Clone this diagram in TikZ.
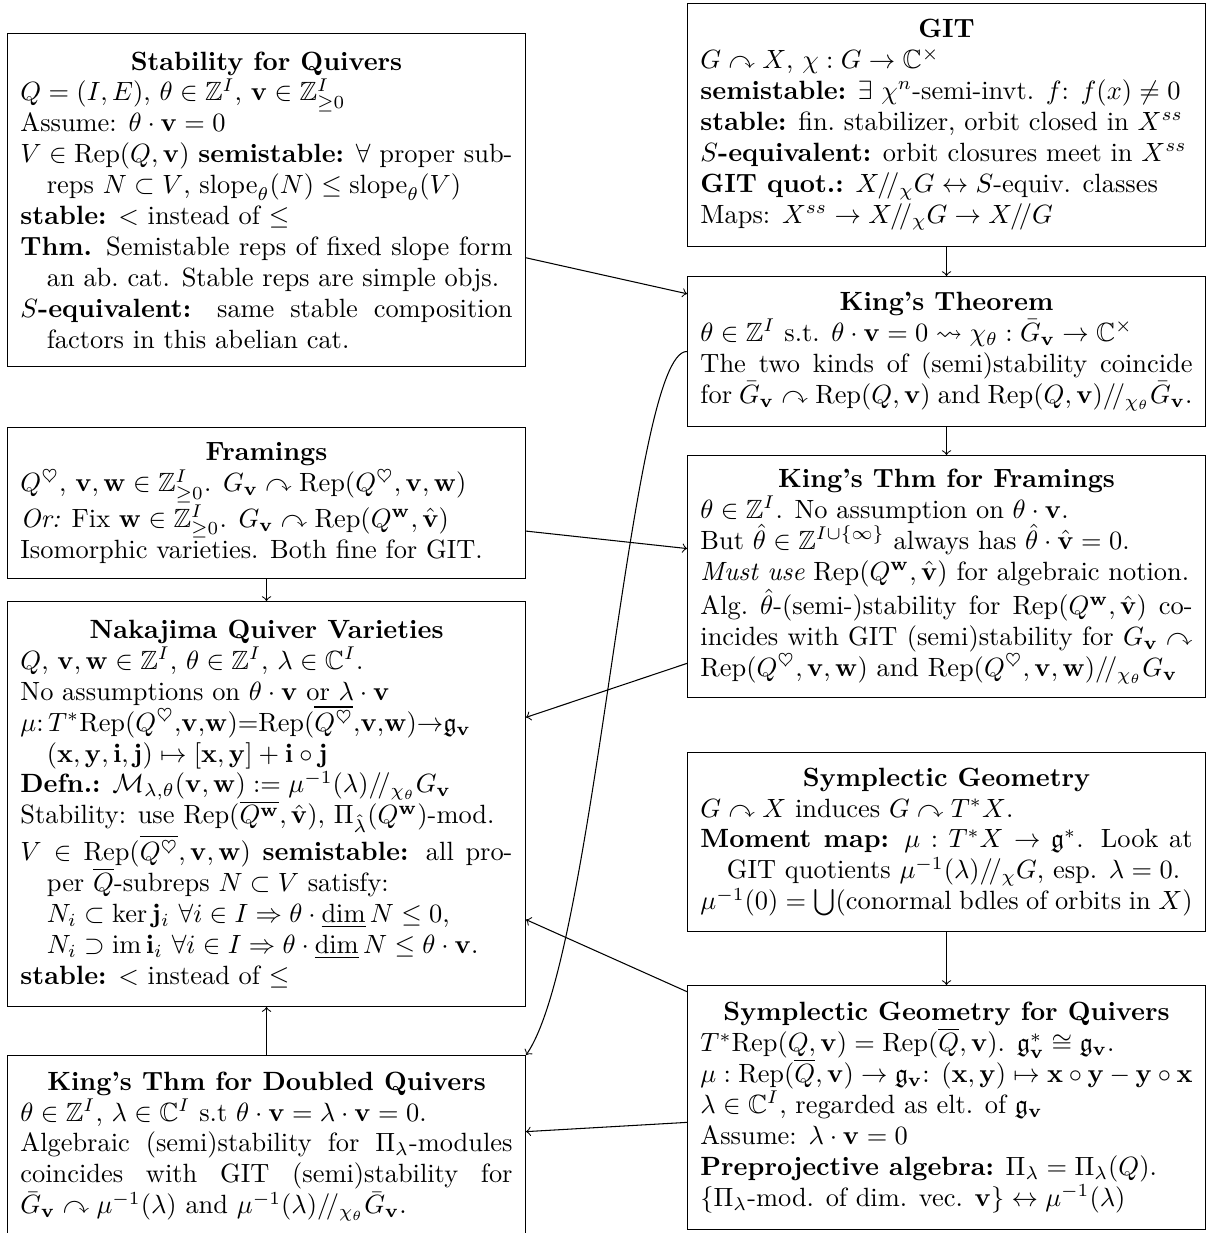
\documentclass[tikz,border=0pt]{standalone}
\usepackage{amsmath,amssymb}
\setlength{\parindent}{0pt}
\newcommand{\Rep}{\mathrm{Rep}}
\newcommand{\mv}{\mathbf{v}}
\newcommand{\mw}{\mathbf{w}}
\newcommand{\mx}{\mathbf{x}}
\newcommand{\my}{\mathbf{y}}
\newcommand{\mi}{\mathbf{i}}
\newcommand{\mj}{\mathbf{j}}
\newcommand{\gq}{/\!/}
\newcommand{\hg}{\hangindent=1em\hangafter=1\relax}
\newcommand{\ttl}[1]{{\centering\bfseries #1\par}}
\tikzset{
  box/.style={draw, anchor=north west, text width=186.4pt, inner xsep=4.9pt,
    inner ysep=4pt, align=justify, font=\fontsize{10}{11.7}\selectfont},
  conn/.style={->}
}
\begin{document}
\begin{tikzpicture}[x=0.3788pt, y=-0.3788pt]
\useasboundingbox (0,0) rectangle (1208,1233);

\node[box, minimum height=126.1pt] (stab) at (7,33) {%
\ttl{Stability for Quivers}
$Q=(I,E)$, $\theta\in\mathbb{Z}^I$, $\mv\in\mathbb{Z}^I_{\geq0}$\par
Assume: $\theta\cdot\mv=0$\par
\hg $V\in\Rep(Q,\mv)$ \textbf{semistable:} $\forall$ proper sub-\linebreak reps $N\subset V$, $\mathrm{slope}_\theta(N)\leq\mathrm{slope}_\theta(V)$\par
\textbf{stable:} $<$ instead of $\leq$\par
\hg \textbf{Thm.} Semistable reps of fixed slope form\linebreak an ab.\ cat. Stable reps are simple objs.\par
\hg $S$\textbf{-equivalent:} same stable composition\linebreak factors in this abelian cat.\par};

\node[box, minimum height=92pt] (git) at (687,3) {%
\ttl{GIT}
$G\curvearrowright X$, $\chi:G\to\mathbb{C}^\times$\par
\textbf{semistable:} $\exists$ $\chi^n$-semi-invt. $f$: $f(x)\neq0$\par
\textbf{stable:} fin.\ stabilizer, orbit closed in $X^{ss}$\par
$S$\textbf{-equivalent:} orbit closures meet in $X^{ss}$\par
\textbf{GIT quot.:} $X\gq_\chi G\leftrightarrow S$-equiv. classes\par
Maps: $X^{ss}\to X\gq_\chi G\to X\gq G$\par};

\node[box, minimum height=56.8pt] (king) at (687,276) {%
\ttl{King's Theorem}
$\theta\in\mathbb{Z}^I$ s.t. $\theta\cdot\mv=0\rightsquigarrow\chi_\theta:\bar G_\mv\to\mathbb{C}^\times$\par
The two kinds of (semi)stability coincide\linebreak for $\bar G_\mv\curvearrowright\Rep(Q,\mv)$ and $\Rep(Q,\mv)\gq_{\chi_\theta}\bar G_\mv$.\par};

\node[box, minimum height=91.7pt] (kingfr) at (687,455) {%
\ttl{King's Thm for Framings}
$\theta\in\mathbb{Z}^I$. No assumption on $\theta\cdot\mv$.\par
But $\hat\theta\in\mathbb{Z}^{I\cup\{\infty\}}$ always has $\hat\theta\cdot\hat\mv=0$.\par
\emph{Must use} $\Rep(Q^\mw,\hat\mv)$ for algebraic notion.\par
Alg.\ $\hat\theta$-(semi-)stability for $\Rep(Q^\mw,\hat\mv)$ co-\linebreak incides with GIT (semi)stability for $G_\mv\curvearrowright$\linebreak $\Rep(Q^\heartsuit,\mv,\mw)$ and $\Rep(Q^\heartsuit,\mv,\mw)\gq_{\chi_\theta}G_\mv$\par};

\node[box, minimum height=57.2pt] (fram) at (7,427) {%
\ttl{Framings}
$Q^\heartsuit$, $\mv,\mw\in\mathbb{Z}^I_{\geq0}$. $G_\mv\curvearrowright\Rep(Q^\heartsuit,\mv,\mw)$\par
\emph{Or:} Fix $\mw\in\mathbb{Z}^I_{\geq0}$. $G_\mv\curvearrowright\Rep(Q^\mw,\hat\mv)$\par
Isomorphic varieties. Both fine for GIT.\par};

\node[box, minimum height=153.4pt] (naka) at (7,601) {%
\ttl{Nakajima Quiver Varieties}
$Q$, $\mv,\mw\in\mathbb{Z}^I$, $\theta\in\mathbb{Z}^I$, $\lambda\in\mathbb{C}^I$.\par
No assumptions on $\theta\cdot\mv$ or $\lambda\cdot\mv$\par
\hg $\mu$:\,$T^*\Rep(Q^\heartsuit{,}\mv{,}\mw){=}\Rep(\overline{Q^\heartsuit}{,}\mv{,}\mw){\to}\mathfrak{g}_\mv$\\
$(\mx,\my,\mi,\mj)\mapsto[\mx,\my]+\mi\circ\mj$\par
\textbf{Defn.:} $\mathcal{M}_{\lambda,\theta}(\mv,\mw):=\mu^{-1}(\lambda)\gq_{\chi_\theta}G_\mv$\par
Stability: use $\Rep(\overline{Q^\mw},\hat\mv)$, $\Pi_{\hat\lambda}(Q^\mw)$-mod.\par
\hg $V\in\Rep(\overline{Q^\heartsuit},\mv,\mw)$ \textbf{semistable:} all pro-\linebreak per $\overline{Q}$-subreps $N\subset V$ satisfy:\\
$N_i\subset\ker\mj_i\ \forall i\in I\Rightarrow\theta\cdot\underline{\dim}\,N\leq0$,\\
$N_i\supset\mathrm{im}\,\mi_i\ \forall i\in I\Rightarrow\theta\cdot\underline{\dim}\,N\leq\theta\cdot\mv$.\par
\textbf{stable:} $<$ instead of $\leq$\par};

\node[box, minimum height=67.8pt] (symp) at (687,752) {%
\ttl{Symplectic Geometry}
$G\curvearrowright X$ induces $G\curvearrowright T^*X$.\par
\hg \textbf{Moment map:} $\mu:T^*X\to\mathfrak{g}^*$. Look at\linebreak GIT quotients $\mu^{-1}(\lambda)\gq_\chi G$, esp. $\lambda=0$.\par
$\mu^{-1}(0)=\bigcup$(conormal bdles of orbits in $X$)\par};

\node[box, minimum height=92.4pt] (sympq) at (687,985) {%
\ttl{Symplectic Geometry for Quivers}
$T^*\Rep(Q,\mv)=\Rep(\overline{Q},\mv)$. $\mathfrak{g}_\mv^*\cong\mathfrak{g}_\mv$.\par
$\mu:\Rep(\overline{Q},\mv)\to\mathfrak{g}_\mv$: $(\mx,\my)\mapsto\mx\circ\my-\my\circ\mx$\par
$\lambda\in\mathbb{C}^I$, regarded as elt. of $\mathfrak{g}_\mv$\par
Assume: $\lambda\cdot\mv=0$\par
\textbf{Preprojective algebra:} $\Pi_\lambda=\Pi_\lambda(Q)$.\par
$\{\Pi_\lambda$-mod. of dim. vec. $\mv\}\leftrightarrow\mu^{-1}(\lambda)$\par};

\node[box, minimum height=68.9pt] (kingdq) at (7,1055) {%
\ttl{King's Thm for Doubled Quivers}
$\theta\in\mathbb{Z}^I$, $\lambda\in\mathbb{C}^I$ s.t $\theta\cdot\mv=\lambda\cdot\mv=0$.\par
Algebraic (semi)stability for $\Pi_\lambda$-modules\linebreak coincides with GIT (semi)stability for\linebreak $\bar G_\mv\curvearrowright\mu^{-1}(\lambda)$ and $\mu^{-1}(\lambda)\gq_{\chi_\theta}\bar G_\mv$.\par};

\draw[conn] (stab) -- (king);
\draw[conn] (git) -- (king);
\draw[conn] (king) -- (kingfr);
\draw[conn] (fram) -- (kingfr);
\draw[conn] (fram) -- (naka);
\draw[conn] (kingfr) -- (naka);
\draw[conn] (symp) -- (sympq);
\draw[conn] (sympq) -- (naka);
\draw[conn] (sympq) -- (kingdq);
\draw[conn] (kingdq) -- (naka);
\draw[conn] (king.west) .. controls (630,350) and (596,955) .. (kingdq.north east);
\end{tikzpicture}
\end{document}
